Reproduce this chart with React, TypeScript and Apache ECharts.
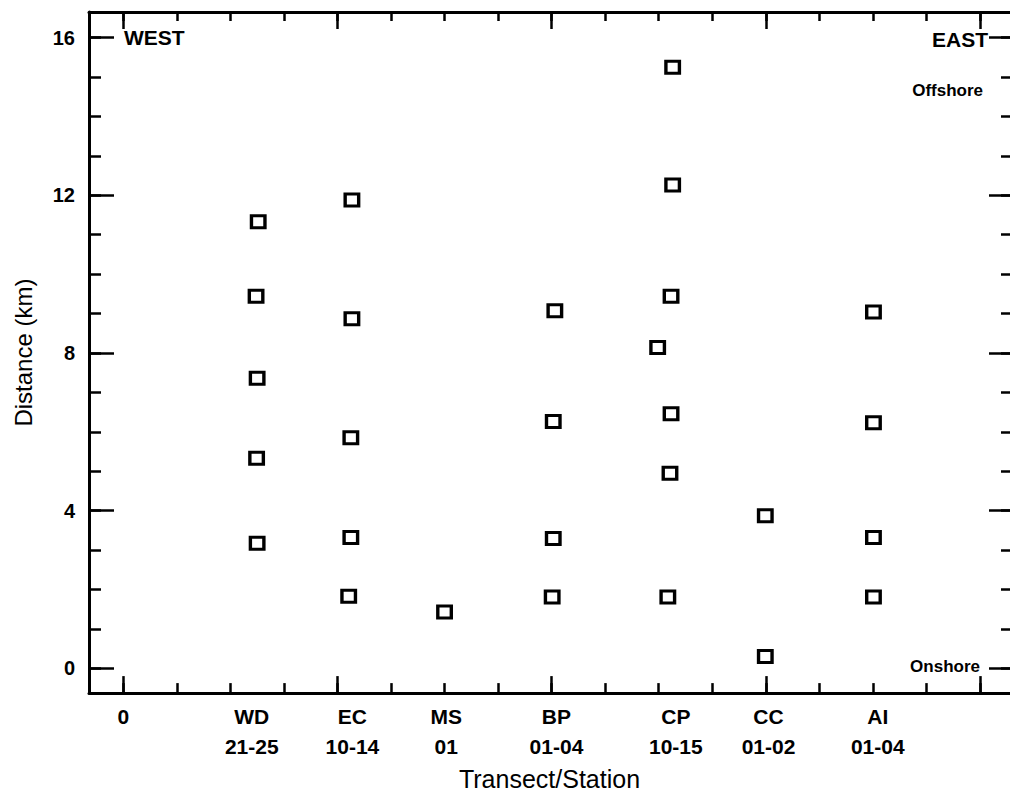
import React, { useEffect, useRef } from "react";
import * as echarts from "echarts";

// ---- data (x = position along transect axis, y = distance in km) ----
const wdX = [2.52, 2.48, 2.5, 2.49, 2.5];
const wdY = [11.33, 9.44, 7.36, 5.33, 3.17];
const ecX = [4.27, 4.27, 4.25, 4.25, 4.21];
const ecY = [11.88, 8.87, 5.85, 3.32, 1.83];
const msX = [6.0];
const msY = [1.43];
const bpX = [8.06, 8.03, 8.03, 8.01];
const bpY = [9.07, 6.26, 3.29, 1.81];
const cpX = [10.26, 10.26, 10.23, 9.98, 10.23, 10.21, 10.17];
const cpY = [15.25, 12.26, 9.44, 8.14, 6.46, 4.95, 1.81];
const ccX = [11.99, 11.99];
const ccY = [3.87, 0.3];
const aiX = [14.01, 14.01, 14.01, 14.01];
const aiY = [9.04, 6.23, 3.32, 1.81];

// ---- axis ticks / labels ----
const xLabelPositions = [0, 2.4, 4.28, 6.03, 8.09, 10.32, 12.05, 14.09];
const xLabelTexts = ["0", "WD\n21-25", "EC\n10-14", "MS\n01", "BP\n01-04", "CP\n10-15", "CC\n01-02", "AI\n01-04"];
const minorTicks = [0, 1, 2, 3, 4, 5, 6, 7, 8, 9, 10, 11, 12, 13, 14, 15, 16];
const majorTicks = [0, 4, 8, 12, 16];
const yLabelValues = [0, 4, 8, 12, 16];

const X_MIN = -0.64;
const X_MAX = 16.56;
const Y_MIN = -0.63;
const Y_MAX = 16.65;

const FONT = "'Liberation Sans', Arial, Helvetica, sans-serif";
const BLACK = "#000";

function pairs(xs: number[], ys: number[]) {
  return xs.map((x, i) => [x, ys[i]]);
}

function axisDef(position: string, min: number, max: number, len: number, ticks: number[], opts: any = {}) {
  return {
    type: "value",
    position,
    min,
    max,
    axisLine: { show: !!opts.line, onZero: false, lineStyle: { color: BLACK, width: 3 } },
    axisTick: { show: true, inside: true, length: len, customValues: ticks, lineStyle: { color: BLACK, width: 2.5 } },
    axisLabel: opts.label || { show: false },
    splitLine: { show: false },
    ...(opts.extra || {}),
  };
}

export default function App() {
  const ref = useRef<HTMLDivElement>(null);

  useEffect(() => {
    if (!ref.current) return;
    const chart = echarts.init(ref.current, undefined, { renderer: "svg" });

    const seriesStyle = {
      type: "scatter",
      symbol: "rect",
      symbolSize: [13.5, 12],
      itemStyle: { color: "#fff", borderColor: BLACK, borderWidth: 3.2, opacity: 1 },
      xAxisIndex: 0,
      yAxisIndex: 0,
    };

    const option: any = {
      animation: false,
      backgroundColor: "#fff",
      textStyle: { fontFamily: FONT, color: BLACK },
      grid: { left: 89, right: -2, top: 12, bottom: 96, containLabel: false },
      xAxis: [
        axisDef("bottom", X_MIN, X_MAX, 10, minorTicks, {
          line: true,
          label: {
            show: true,
            customValues: xLabelPositions,
            formatter: (v: number) => {
              let best = 0;
              let bd = Infinity;
              xLabelPositions.forEach((p, i) => {
                const d = Math.abs(p - v);
                if (d < bd) { bd = d; best = i; }
              });
              return xLabelTexts[best];
            },
            color: BLACK,
            fontFamily: FONT,
            fontSize: 21,
            fontWeight: "bold",
            lineHeight: 30,
            margin: 8,
            align: "center",
          },
          extra: {
            name: "Transect/Station",
            nameLocation: "middle",
            nameGap: 69,
            nameTextStyle: { color: BLACK, fontFamily: FONT, fontSize: 25, fontWeight: "normal" },
          },
        }),
        axisDef("bottom", X_MIN, X_MAX, 17, majorTicks),
        axisDef("top", X_MIN, X_MAX, 9, minorTicks, { line: true }),
        axisDef("top", X_MIN, X_MAX, 17, majorTicks),
      ],
      yAxis: [
        axisDef("left", Y_MIN, Y_MAX, 12, minorTicks, {
          line: true,
          label: {
            show: true,
            customValues: yLabelValues,
            color: BLACK,
            fontFamily: FONT,
            fontSize: 20,
            fontWeight: "bold",
            margin: 14,
          },
          extra: {
            name: "Distance (km)",
            nameLocation: "middle",
            nameGap: 54,
            nameRotate: 90,
            nameTextStyle: { color: BLACK, fontFamily: FONT, fontSize: 24, fontWeight: "normal" },
          },
        }),
        axisDef("left", Y_MIN, Y_MAX, 25, majorTicks),
        axisDef("right", Y_MIN, Y_MAX, 9, minorTicks),
        axisDef("right", Y_MIN, Y_MAX, 21, majorTicks),
      ],
      series: [
        { ...seriesStyle, name: "WD", data: pairs(wdX, wdY) },
        { ...seriesStyle, name: "EC", data: pairs(ecX, ecY) },
        { ...seriesStyle, name: "MS", data: pairs(msX, msY) },
        { ...seriesStyle, name: "BP", data: pairs(bpX, bpY) },
        { ...seriesStyle, name: "CP", data: pairs(cpX, cpY) },
        { ...seriesStyle, name: "CC", data: pairs(ccX, ccY) },
        { ...seriesStyle, name: "AI", data: pairs(aiX, aiY) },
      ],
      graphic: [
        {
          type: "text",
          left: 124,
          top: 27,
          style: { text: "WEST", font: `bold 21px ${FONT}`, fill: BLACK },
        },
        {
          type: "text",
          right: 1010 - 988,
          top: 29,
          style: { text: "EAST", font: `bold 21px ${FONT}`, fill: BLACK },
        },
        {
          type: "text",
          right: 1010 - 983,
          top: 82,
          style: { text: "Offshore", font: `bold 17px ${FONT}`, fill: BLACK },
        },
        {
          type: "text",
          right: 1010 - 980,
          top: 658,
          style: { text: "Onshore", font: `bold 17px ${FONT}`, fill: BLACK },
        },
      ],
    };

    chart.setOption(option);
    return () => chart.dispose();
  }, []);

  return (
    <div
      ref={ref}
      style={{ position: "fixed", left: 0, top: 0, width: 1010, height: 796, background: "#fff" }}
    />
  );
}
